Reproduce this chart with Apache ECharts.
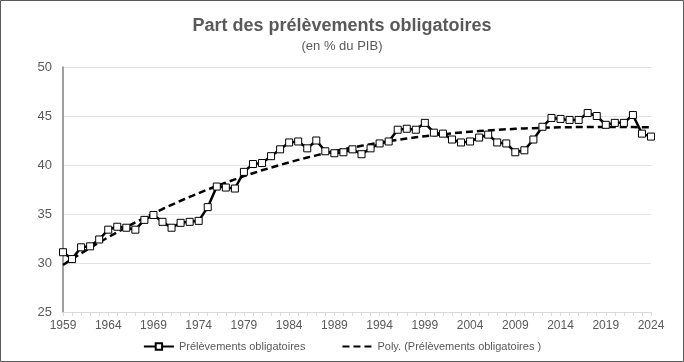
<!DOCTYPE html>
<html>
<head>
<meta charset="utf-8">
<script src="https://cdn.jsdelivr.net/npm/echarts@6/dist/echarts.min.js"></script>
<style>
html,body{margin:0;padding:0;background:#fff;}
#c{width:684px;height:362px;}
</style>
</head>
<body>
<div id="c"></div>
<script>
const years = [];
for (let y = 1959; y <= 2024; y++) years.push(String(y));

const prelevements = [
  31.1, 30.4, 31.6, 31.7, 32.4, 33.4, 33.7, 33.6, 33.4, 34.4,
  34.9, 34.2, 33.6, 34.1, 34.2, 34.3, 35.7, 37.8, 37.7, 37.6,
  39.3, 40.1, 40.2, 40.9, 41.6, 42.3, 42.4, 41.7, 42.5, 41.4,
  41.2, 41.3, 41.6, 41.1, 41.7, 42.2, 42.4, 43.6, 43.7, 43.6,
  44.3, 43.3, 43.2, 42.6, 42.3, 42.4, 42.8, 43.1, 42.3, 42.2,
  41.3, 41.5, 42.6, 43.9, 44.8, 44.7, 44.6, 44.6, 45.3, 45.0,
  44.1, 44.3, 44.3, 45.1, 43.2, 42.9
];

const tendance = [
  29.80, 30.40, 30.98, 31.55, 32.10, 32.63, 33.15, 33.65, 34.14, 34.61,
  35.06, 35.51, 35.93, 36.35, 36.75, 37.13, 37.50, 37.86, 38.20, 38.54,
  38.86, 39.16, 39.46, 39.74, 40.01, 40.27, 40.52, 40.76, 40.98, 41.20,
  41.40, 41.60, 41.78, 41.96, 42.13, 42.28, 42.43, 42.57, 42.70, 42.82,
  42.94, 43.04, 43.14, 43.23, 43.32, 43.40, 43.47, 43.53, 43.59, 43.64,
  43.69, 43.73, 43.76, 43.80, 43.82, 43.84, 43.86, 43.87, 43.88, 43.88,
  43.89, 43.88, 43.88, 43.87, 43.86, 43.85
];

const seriesNames = ['Prélèvements obligatoires', 'Poly. (Prélèvements obligatoires )'];
const titleText = 'Part des prélèvements obligatoires';
const subtitleText = '(en % du PIB)';

const chart = echarts.init(document.getElementById('c'), null, {renderer: 'canvas'});
const grey = '#595959';
const ff = 'Liberation Sans, Arial, sans-serif';
chart.setOption({
  animation: false,
  backgroundColor: '#ffffff',
  textStyle: {fontFamily: ff},
  title: {
    text: titleText,
    subtext: subtitleText,
    left: 'center',
    top: 12,
    itemGap: 5,
    textStyle: {fontSize: 18, fontWeight: 'bold', color: grey, fontFamily: ff},
    subtextStyle: {fontSize: 13, color: grey, fontFamily: ff}
  },
  graphic: [{
    type: 'rect', silent: true,
    shape: {x: 0.5, y: 0.5, width: 683, height: 361},
    style: {fill: 'none', stroke: '#595959', lineWidth: 1}
  }],
  legend: {
    top: 336,
    left: 'center',
    itemGap: 36,
    itemWidth: 30,
    itemHeight: 8,
    textStyle: {fontSize: 11, color: grey, fontFamily: ff},
    data: [
      {name: seriesNames[0]},
      {name: seriesNames[1], itemStyle: {opacity: 0}}
    ]
  },
  grid: {left: 63, right: 33, top: 67, bottom: 50},
  xAxis: {
    type: 'category',
    data: years,
    boundaryGap: false,
    axisLine: {lineStyle: {color: '#d9d9d9', width: 1}},
    axisTick: {show: true, interval: 0, length: 4, lineStyle: {color: '#d9d9d9'}},
    axisLabel: {interval: 4, color: grey, fontSize: 12, margin: 8},
    splitLine: {show: false}
  },
  yAxis: {
    type: 'value',
    min: 25, max: 50, interval: 5,
    axisLine: {show: true, lineStyle: {color: '#808080', width: 1.5}},
    axisTick: {show: false},
    axisLabel: {color: grey, fontSize: 13, margin: 11},
    splitLine: {lineStyle: {color: '#e3e3e3', width: 1}}
  },
  series: [
    {
      name: seriesNames[0],
      type: 'line',
      data: prelevements,
      symbol: 'rect',
      symbolSize: 7,
      showAllSymbol: true,
      itemStyle: {color: '#ffffff', borderColor: '#000000', borderWidth: 1},
      lineStyle: {color: '#000000', width: 2.5},
      z: 3
    },
    {
      name: seriesNames[1],
      type: 'line',
      data: tendance,
      symbol: 'none',
      smooth: false,
      itemStyle: {color: '#000000'},
      lineStyle: {color: '#000000', width: 2.5, type: [7, 4]},
      z: 2
    }
  ]
});
</script>
</body>
</html>
